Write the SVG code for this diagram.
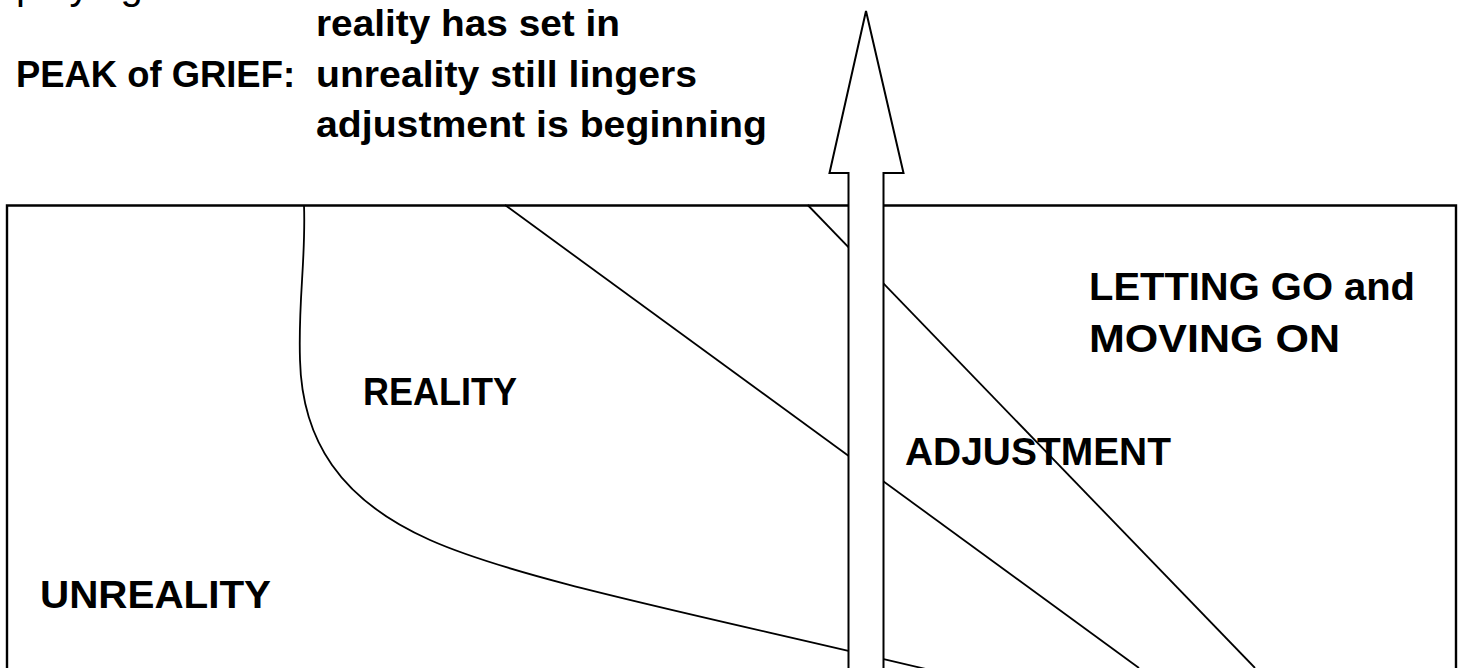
<svg xmlns="http://www.w3.org/2000/svg" width="1464" height="668" viewBox="0 0 1464 668">
<style>
  .t { font-family: "Liberation Sans", Arial, sans-serif; font-weight: bold; font-size: 36px; fill: #000; }
  .l { font-family: "Liberation Sans", Arial, sans-serif; font-weight: bold; font-size: 39.5px; fill: #000; }
  .r { font-family: "Liberation Sans", Arial, sans-serif; font-weight: normal; font-size: 40px; fill: #000; }
  .ln { fill: none; stroke: #000; stroke-width: 1.8; }
  .fr { fill: none; stroke: #000; stroke-width: 2.4; }
</style>
<rect width="1464" height="668" fill="#fff"/>
<g id="header">
  <text class="r" x="16" y="-1">playing</text>
  <text class="t" x="316" y="35.5" textLength="304" lengthAdjust="spacingAndGlyphs">reality has set in</text>
  <text class="t" x="16" y="87" textLength="279" lengthAdjust="spacingAndGlyphs">PEAK of GRIEF:</text>
  <text class="t" x="316" y="87" textLength="381" lengthAdjust="spacingAndGlyphs">unreality still lingers</text>
  <text class="t" x="316" y="136.5" textLength="451" lengthAdjust="spacingAndGlyphs">adjustment is beginning</text>
</g>
<g id="frame">
  <path class="fr" d="M7,690 V205.5 H1456 V690"/>
</g>
<g id="connectors">
  <path class="ln" d="M304,205 C306,260 298,300 300,360 C302,440 340,500 430,540 C520,580 700,615 930,670"/>
  <line class="ln" x1="505" y1="205" x2="1139" y2="668"/>
  <line class="ln" x1="807.7" y1="205" x2="1255" y2="668"/>
</g>
<g id="arrow">
  <polygon points="866,11 903.5,173 883.5,173 883.5,700 848.5,700 848.5,173 829.5,173" fill="#fff" stroke="#000" stroke-width="2" stroke-linejoin="miter"/>
</g>
<g id="unreality"><text class="l" x="40" y="608" textLength="231" lengthAdjust="spacingAndGlyphs">UNREALITY</text></g>
<g id="reality"><text class="l" x="363" y="405" textLength="154" lengthAdjust="spacingAndGlyphs">REALITY</text></g>
<g id="adjustment"><text class="l" x="905" y="465" textLength="266" lengthAdjust="spacingAndGlyphs">ADJUSTMENT</text></g>
<g id="letting-go">
  <text class="l" x="1089" y="300" textLength="326" lengthAdjust="spacingAndGlyphs">LETTING GO and</text>
  <text class="l" x="1089" y="352" textLength="251" lengthAdjust="spacingAndGlyphs">MOVING ON</text>
</g>
</svg>
